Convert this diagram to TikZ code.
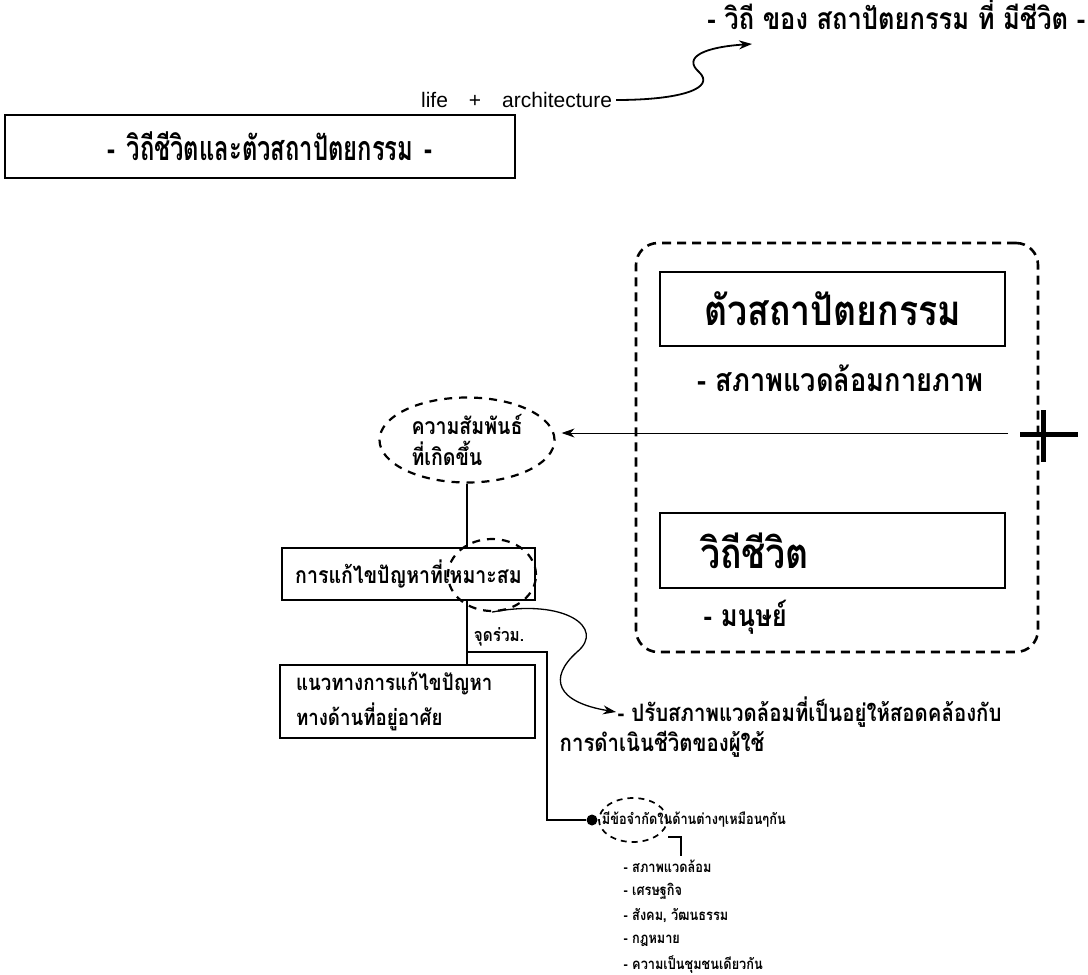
\documentclass[tikz,border=0pt]{standalone}
\usepackage{fontspec}
\setmainfont{Liberation Sans}
\newfontfamily\thaifont[Script=Thai, FakeStretch=0.85]{Loma}
\newfontfamily\thainarrow[Script=Thai, FakeStretch=0.7]{Loma}
\usetikzlibrary{positioning}
\usetikzlibrary{calc}
\usetikzlibrary{arrows.meta}
\usetikzlibrary{shapes.geometric}

\begin{document}
\begin{tikzpicture}[x=1pt, y=-1pt, line width=1.4pt,
		thaitext/.style={font=\thaifont\bfseries\fontsize{#1}{#1}\selectfont, inner sep=1pt},
		framebox/.style={draw, line width=1.8pt, inner sep=0pt},
		dashring/.style={ellipse, draw, line width=2.2pt, dash pattern=on 8pt off 7pt, inner sep=0pt},
		tipfill/.style={-{Stealth[length=13pt,width=9pt]}}]
		\useasboundingbox (0,0) rectangle (1088,975);

		% heading and title
		\node (way) [thaitext=30, anchor=east] at (1087,14) {- วิถี ของ สถาปัตยกรรม ที่ มีชีวิต -};
		\node (lifearch) [font=\fontsize{21}{21}\selectfont, anchor=east] at (616,100) {life\quad+\quad architecture};
		\coordinate (wayin) at (752,44);
		\draw [tipfill, line width=1.8pt] (lifearch.east) .. controls (682,100) and (716,88) .. (699,72) .. controls (682,57) and (705,47) .. (wayin);
		\node (title) [framebox, font=\thainarrow\bfseries\fontsize{34}{34}\selectfont, minimum width=510, minimum height=63, text width=470, align=center] at (260,146.5) {\hspace*{20pt}- วิถีชีวิตและตัวสถาปัตยกรรม -};

		% the pair on the right
		\node (pair) [draw, line width=2.6pt, dash pattern=on 9pt off 6pt, rounded corners=22, minimum width=402, minimum height=409] at (837,447.5) {};
		\node (arch) [framebox, thaitext=42, minimum width=345, minimum height=74] at (832.5,309) {ตัวสถาปัตยกรรม};
		\node (env) [thaitext=32] at ($(arch.south) + (8,31)$) {- สภาพแวดล้อมกายภาพ};
		\node (life) [framebox, thaitext=42, minimum width=345, minimum height=75, text width=265, align=left] at (832.5,550.5) {วิถีชีวิต};
		\node (human) [thaitext=30, anchor=west] at (702,617) {- มนุษย์};
		\draw [line width=5pt] (1020,434) -- (1078,434) (1043,410) -- (1043,462);

		% relation and solutions
		\node (rel) [dashring, minimum width=175, minimum height=85] at (467,440) {};
		\node (reltext) [thaitext=23, align=left] at (rel.center) {ความสัมพันธ์\\[5pt]ที่เกิดขึ้น};
		\coordinate (relsrc) at (1008,433);
		\draw [tipfill, line width=1pt] (relsrc) -- ($(relsrc -| rel.east) + (6,0)$);

		\node (fix) [framebox, thaitext=23, minimum width=253, minimum height=52] at (408.5,574) {การแก้ไขปัญหาที่เหมาะสม};
		\node (fitpart) [dashring, minimum width=88, minimum height=72] at (492,575) {};
		\draw (rel.south) -- (rel.south |- fix.north);

		\node (guide) [framebox, thaitext=22, minimum width=255, minimum height=73, text width=223, align=left] at (407.5,701.5) {แนวทางการแก้ไขปัญหา\\[6pt]ทางด้านที่อยู่อาศัย};
		\draw (rel.south |- fix.south) -- (rel.south |- guide.north);
		\coordinate (joint) at (467,652);
		\node (shared) [thaitext=18] at ($(joint) + (32,-15)$) {จุดร่วม.};

		% adjusting the surroundings
		\node (adjust1) [thaitext=24, anchor=west] at (616,712) {- ปรับสภาพแวดล้อมที่เป็นอยู่ให้สอดคล้องกับ};
		\node (adjust2) [thaitext=24, anchor=west] at (558,744) {การดำเนินชีวิตของผู้ใช้};
		\draw [tipfill, line width=1.3pt] (fitpart.south) .. controls (565,598) and (606,628) .. (577,652) .. controls (548,678) and (556,702) .. (adjust1.west);

		% shared limits
		\node (dot) [circle, fill, inner sep=0pt, minimum size=11] at (592,820) {};
		\coordinate (bend) at (547,820);
		\draw (joint) -| (bend) -- (dot);
		\node (limits) [thaitext=15, right=2pt of dot] {มีข้อจำกัดในด้านต่างๆเหมือนๆกัน};
		\node (limring) [dashring, line width=1.7pt, dash pattern=on 6pt off 5pt, minimum width=68, minimum height=44] at (633,820) {};
		\node (factors) [thaitext=15, anchor=north west, align=left] at (622,858) {- สภาพแวดล้อม\\[8pt]- เศรษฐกิจ\\[8pt]- สังคม, วัฒนธรรม\\[8pt]- กฎหมาย\\[8pt]- ความเป็นชุมชนเดียวกัน};
		\coordinate (brack) at (681,837);
		\draw [line width=1.8pt] ($(brack) + (-13,0)$) -- (brack) -- ($(brack) + (0,19)$);
	\end{tikzpicture}
\end{document}
